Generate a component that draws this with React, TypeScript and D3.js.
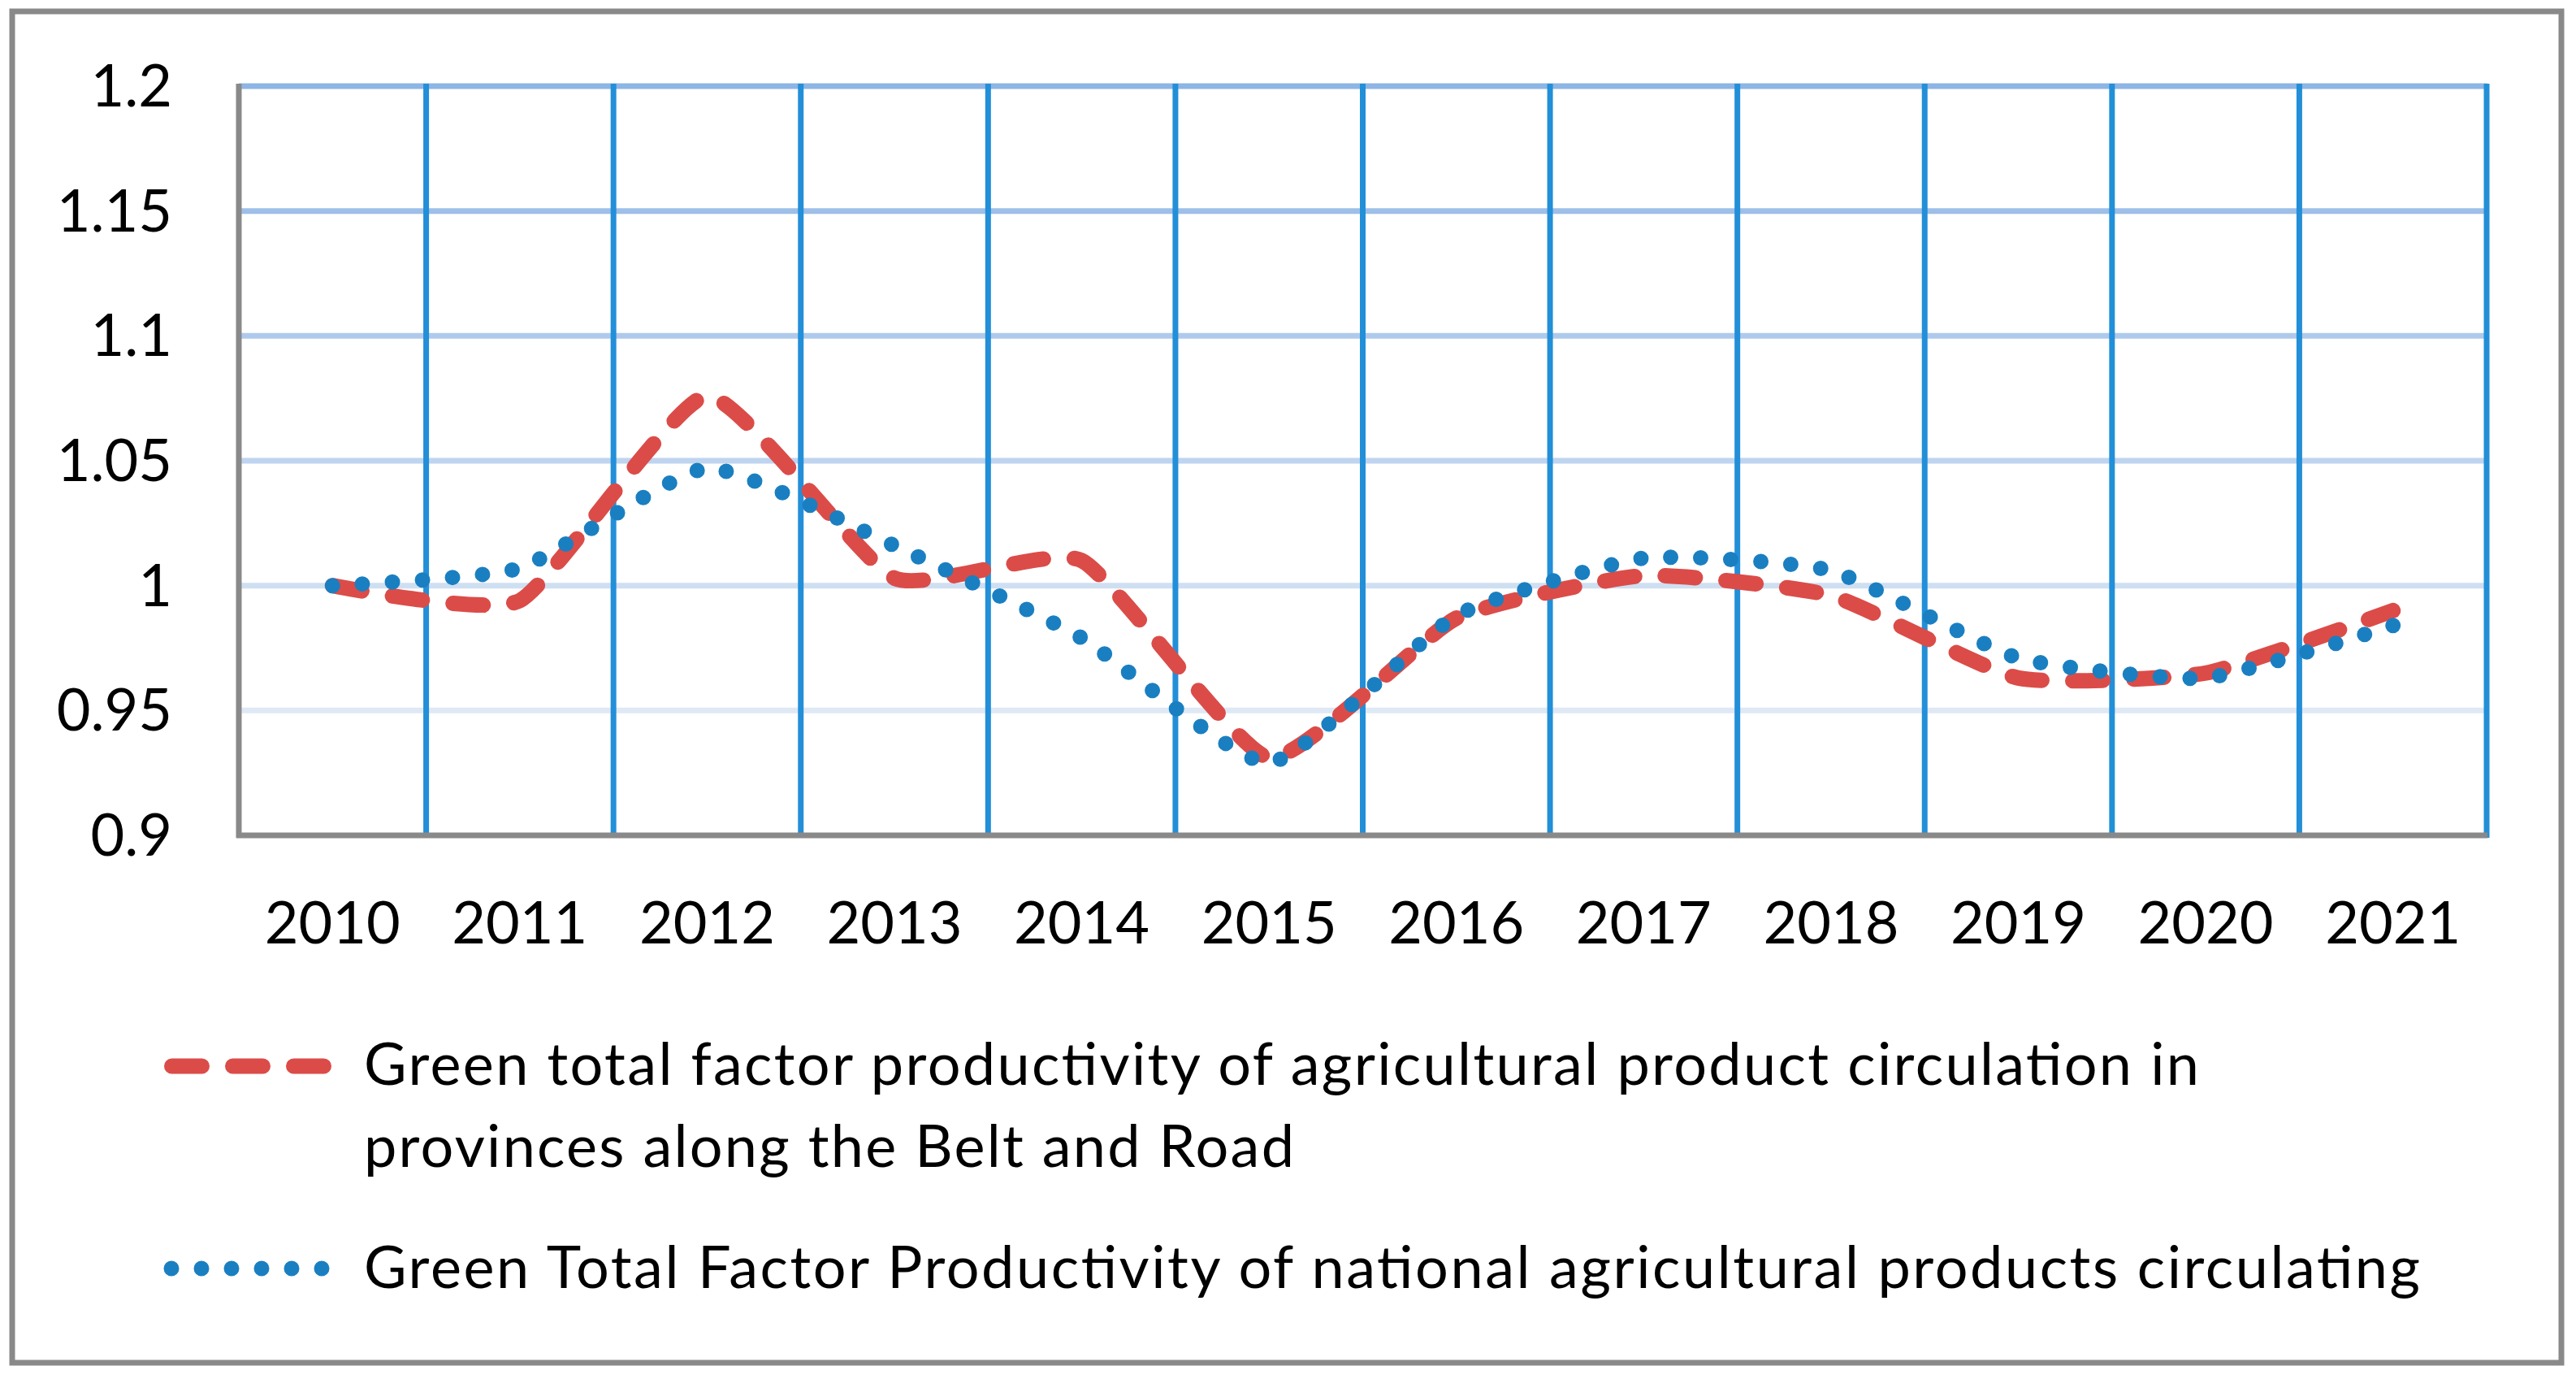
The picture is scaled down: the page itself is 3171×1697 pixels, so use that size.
import React from 'react';
import * as d3 from 'd3';

// years on the category axis
const years = ['2010', '2011', '2012', '2013', '2014', '2015', '2016', '2017', '2018', '2019', '2020', '2021'];

// provinces along the Belt and Road (dashed red)
const beltRoadValues = [1.0, 0.994, 1.076, 1.003, 1.01, 0.931, 0.987, 1.004, 0.996, 0.963, 0.965, 0.99];

// national figure (dotted blue)
const nationalValues = [1.0, 1.007, 1.047, 1.016, 0.979, 0.929, 0.988, 1.011, 1.006, 0.971, 0.963, 0.984];

const yTicks = [0.9, 0.95, 1, 1.05, 1.1, 1.15, 1.2];

const legendLabels = [
    ['Green total factor productivity of agricultural product circulation in', 'provinces along the Belt and Road'],
    ['Green Total Factor Productivity of national agricultural products circulating'],
];

const W = 3171;
const H = 1697;
const plot = { left: 294, right: 3061, top: 106, bottom: 1028 };
const font = 'Lato, "Open Sans", sans-serif';
const fontSize = 72;

const RED = '#db4c48';
const BLUE = '#1a7fc1';
const VGRID = '#228fd8';
const AXIS = '#898989';

export default function App() {
    const x = d3.scaleBand().domain(years).range([plot.left, plot.right]).padding(0);
    const y = d3.scaleLinear().domain([0.9, 1.2]).range([plot.bottom, plot.top]);
    const cx = (yr) => (x(yr) ?? 0) + x.bandwidth() / 2;

    // Excel-style smoothing: tighter than plain Catmull-Rom
    const line = d3.line<number>()
        .x((_, i) => cx(years[i]))
        .y((d) => y(d))
        .curve(d3.curveCardinal.tension(0.5));

    const gridColor = d3.interpolateRgb('#8db5e5', '#dfe9f5');
    const gridTicks = yTicks.filter((t) => t > 0.9).sort((a, b) => b - a);
    const lastIdx = years.length - 1;

    return (
        <div>
            <style>{'body{margin:0;background:#fff}'}</style>
            <svg width={W} height={H} style={{ display: 'block', fontFamily: font }}>
                <rect x={0} y={0} width={W} height={H} fill="#fff" />
                <rect x={15} y={14} width={3138} height={1663} fill="#fff" stroke={AXIS} strokeWidth={7} />

                {/* horizontal gridlines, fading downward */}
                {gridTicks.map((t, i) => (
                    <line key={'h' + t} x1={plot.left} x2={plot.right + 1} y1={y(t)} y2={y(t)}
                        stroke={gridColor(i / (gridTicks.length - 1))} strokeWidth={7} />
                ))}

                {/* vertical gridlines between categories */}
                {years.map((yr) => {
                    const gx = (x(yr) ?? 0) + x.bandwidth();
                    return <line key={'v' + yr} x1={gx} x2={gx} y1={plot.top - 3} y2={plot.bottom + 3}
                        stroke={VGRID} strokeWidth={7} />;
                })}

                {/* axes */}
                <line x1={plot.left} x2={plot.left} y1={plot.top - 3} y2={plot.bottom + 3} stroke={AXIS} strokeWidth={7} />
                <line x1={plot.left - 3} x2={plot.right + 1} y1={plot.bottom} y2={plot.bottom} stroke={AXIS} strokeWidth={7} />

                {yTicks.map((t) => (
                    <text key={'yt' + t} x={212} y={y(t) + 25} textAnchor="end" fontSize={fontSize} fill="#000">
                        {String(t)}
                    </text>
                ))}

                {years.map((yr) => (
                    <text key={'xt' + yr} x={cx(yr)} y={1161} textAnchor="middle" fontSize={fontSize} fill="#000">
                        {yr}
                    </text>
                ))}

                {/* series */}
                <path d={line(beltRoadValues) ?? ''} fill="none" stroke={RED} strokeWidth={19}
                    strokeDasharray="37 38" strokeLinecap="round" strokeLinejoin="round" />
                <path d={line(nationalValues) ?? ''} fill="none" stroke={BLUE} strokeWidth={19}
                    strokeDasharray="0 37" strokeLinecap="round" strokeLinejoin="round" />
                <circle cx={cx(years[lastIdx])} cy={y(nationalValues[lastIdx])} r={9.5} fill={BLUE} />

                {/* legend */}
                <line x1={211.5} x2={398.5} y1={1312} y2={1312} stroke={RED} strokeWidth={19}
                    strokeDasharray="37 38" strokeLinecap="round" />
                <text x={448} y={1335} fontSize={fontSize} fill="#000" textLength={2259} lengthAdjust="spacing">
                    {legendLabels[0][0]}
                </text>
                <text x={448} y={1436} fontSize={fontSize} fill="#000" textLength={1145} lengthAdjust="spacing">
                    {legendLabels[0][1]}
                </text>

                <line x1={211} x2={398} y1={1561} y2={1561} stroke={BLUE} strokeWidth={19}
                    strokeDasharray="0 37" strokeLinecap="round" />
                <text x={448} y={1585} fontSize={fontSize} fill="#000" textLength={2531} lengthAdjust="spacing">
                    {legendLabels[1][0]}
                </text>
            </svg>
        </div>
    );
}
